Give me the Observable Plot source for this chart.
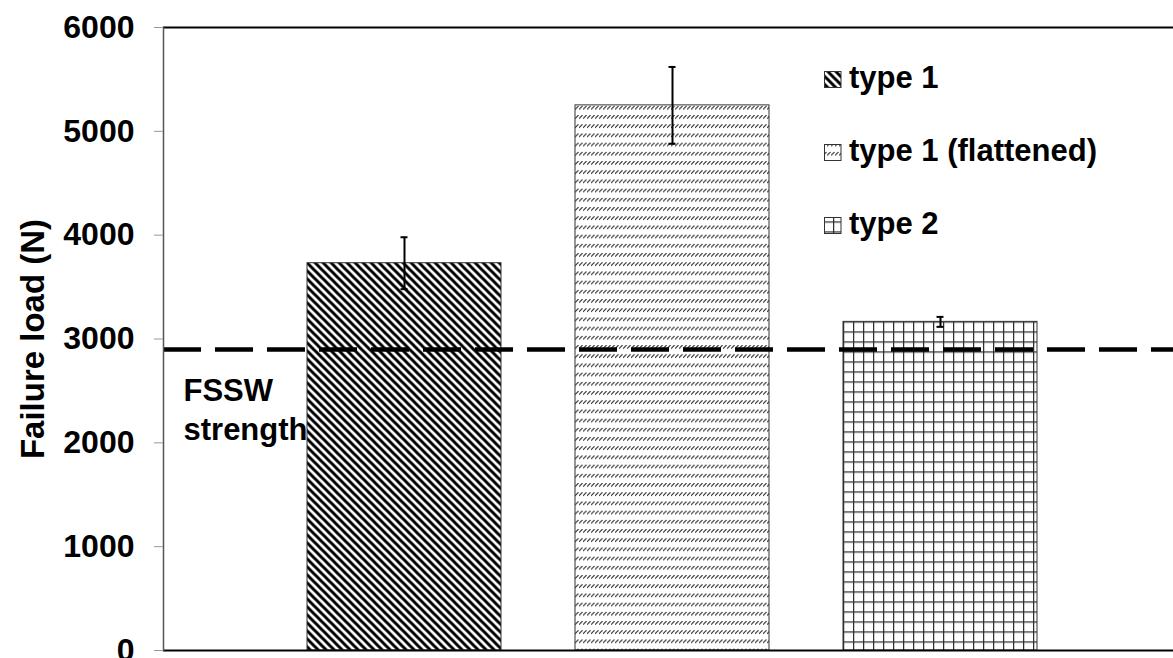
<!DOCTYPE html>
<html>
<head>
<meta charset="utf-8">
<script src="https://cdn.jsdelivr.net/npm/d3@7"></script>
<script src="https://cdn.jsdelivr.net/npm/@observablehq/plot@0.6"></script>
<style>
  body { margin: 0; background: #fff; overflow: hidden; }
</style>
</head>
<body>
<div id="chart"></div>
<script>
// Joint types tested and their mean failure loads with scatter (N)
const categories = ["type 1", "type 1 (flattened)", "type 2"];
const failureLoad = [3730, 5250, 3165];
const errorLoad = [250, 370, 48];
// Reference strength of the friction stir spot weld
const fsswStrength = 2900;
const yTicks = [0, 1000, 2000, 3000, 4000, 5000, 6000];
const yLabel = "Failure load (N)";
const fsswLabel = "FSSW\nstrength";

const data = categories.map((type, i) => ({type, load: failureLoad[i], err: errorLoad[i]}));
const patternIds = ["pat-wide-down", "pat-dash-up", "pat-grid"];
const fillOf = new Map(categories.map((c, i) => [c, `url(#${patternIds[i]})`]));
const FONT = '"Liberation Sans", Arial, Helvetica, sans-serif';

// Hatch fills, anchored to each bar's top-left corner
function patterns(index, scales) {
  const defs = d3.create("svg:defs");
  const add = (id, w, h, ox, oy) => defs.append("pattern")
    .attr("id", id).attr("patternUnits", "userSpaceOnUse")
    .attr("width", w).attr("height", h).attr("x", ox).attr("y", oy);

  // wide downward diagonal
  const p1 = add(patternIds[0], 8, 8, scales.x(categories[0]), scales.y(failureLoad[0]));
  p1.append("rect").attr("width", 8).attr("height", 8).attr("fill", "white");
  p1.append("path").attr("d", "M-2,-2L10,10M-2,6L2,10M6,-2L10,2")
    .attr("stroke", "black").attr("stroke-width", 3);

  // dashed upward diagonal rows
  const p2 = add(patternIds[1], 4, 9.2, scales.x(categories[1]), scales.y(failureLoad[1]) + 1);
  p2.append("rect").attr("width", 4).attr("height", 9.2).attr("fill", "white");
  p2.append("path").attr("d", "M0,3.6L3.6,0").attr("stroke", "#3a3a3a").attr("stroke-width", 1.2);

  // small grid
  const p3 = add(patternIds[2], 10, 10, scales.x(categories[2]), scales.y(failureLoad[2]));
  p3.append("rect").attr("width", 10).attr("height", 10).attr("fill", "white");
  p3.append("path").attr("d", "M0.6,0V10M0,0.6H10")
    .attr("stroke", "#2e2e2e").attr("stroke-width", 1.3);

  return defs.node();
}

// Legend inside the plot area, top right
function legend() {
  const g = d3.create("svg:g")
    .attr("font-family", FONT).attr("font-weight", "bold").attr("font-size", 31)
    .attr("fill", "black").attr("text-anchor", "start");
  categories.forEach((c, i) => {
    const base = 87.5 + i * 73;
    g.append("rect").attr("x", 824.5).attr("y", base - 16).attr("width", 16.5).attr("height", 16)
      .attr("fill", fillOf.get(c)).attr("stroke", "#333").attr("stroke-width", 1);
    g.append("text").attr("x", 849).attr("y", base).attr("text-anchor", "start").text(c);
  });
  return g.node();
}

const chart = Plot.plot({
  width: 1173,
  height: 658,
  marginLeft: 163,
  marginRight: 0,
  marginTop: 27,
  marginBottom: 8,
  style: {fontFamily: FONT, fontSize: "32px", fontWeight: "bold", color: "black", background: "white"},
  x: {domain: categories, range: [163, 1181], paddingInner: 0.276, paddingOuter: 0.537, axis: null},
  y: {domain: [0, 6000], axis: null},
  color: {type: "identity"},
  marks: [
    patterns,
    Plot.barY(data, {x: "type", y: "load", fill: d => fillOf.get(d.type), stroke: "#333", strokeWidth: 1}),
    Plot.ruleX(data, {x: "type", y1: d => d.load - d.err, y2: d => d.load + d.err, stroke: "black", strokeWidth: 2}),
    Plot.tickY(data, {x: "type", y: d => d.load + d.err, stroke: "black", strokeWidth: 2, insetLeft: 93.5, insetRight: 93.5}),
    Plot.tickY(data, {x: "type", y: d => d.load - d.err, stroke: "black", strokeWidth: 2, insetLeft: 93.5, insetRight: 93.5}),
    Plot.ruleY([fsswStrength], {stroke: "black", strokeWidth: 4.5, strokeDasharray: "38,14"}),
    Plot.text([fsswLabel], {
      text: d => d, y: [fsswStrength], frameAnchor: "left", textAnchor: "start", lineAnchor: "top",
      dx: 20, dy: 24, lineHeight: 1.26, fontSize: 31, fontWeight: "bold", fill: "black"
    }),
    Plot.ruleY([6000], {stroke: "black", strokeWidth: 2}),
    Plot.ruleY([0], {stroke: "black", strokeWidth: 2}),
    Plot.frame({anchor: "left", stroke: "#555", strokeWidth: 1.5}),
    Plot.axisY(yTicks, {
      tickSize: 9, tickPadding: 20, stroke: "#999", fill: "black", label: null,
      tickFormat: d3.format("d"), fontSize: 32, fontWeight: "bold"
    }),
    Plot.text([yLabel], {
      text: d => d, frameAnchor: "left", rotate: -90, dx: -120, textAnchor: "middle", lineAnchor: "bottom",
      fontSize: 33, fontWeight: "bold", fill: "black"
    }),
    legend
  ]
});

document.getElementById("chart").appendChild(chart);
</script>
</body>
</html>
